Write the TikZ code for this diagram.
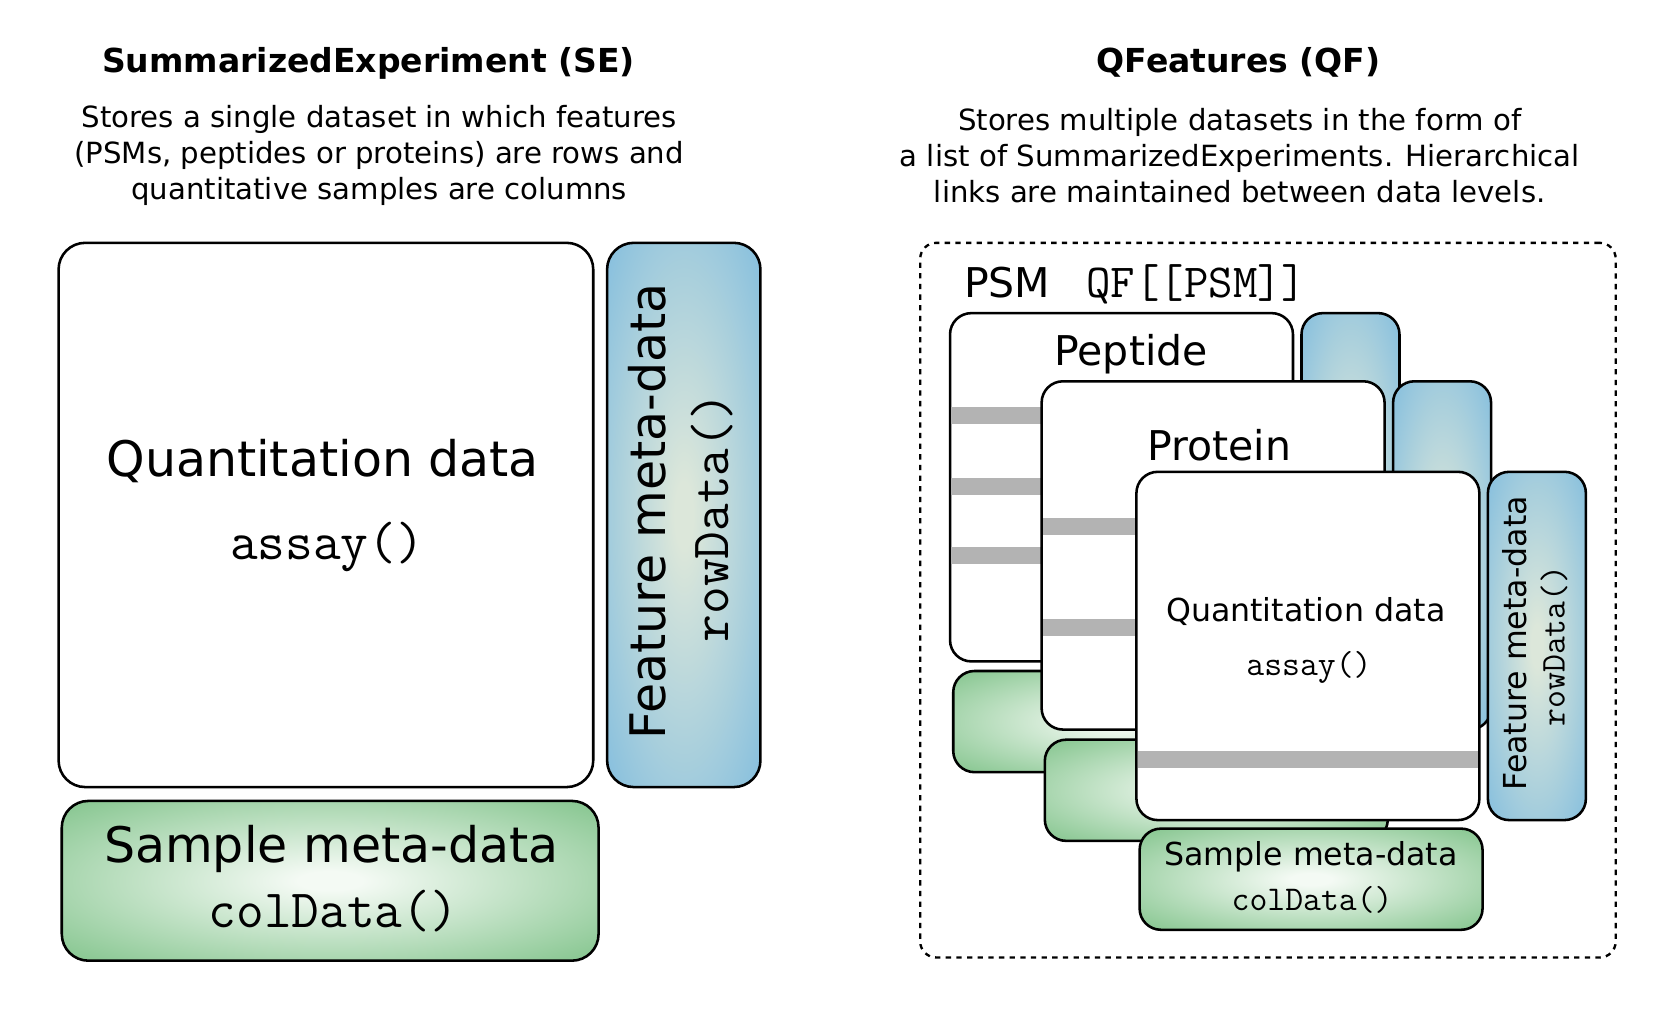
\documentclass[tikz,border=0pt]{standalone}
\usepackage{fontspec}
\setmainfont{DejaVu Sans}
\usepackage{tikz}
\definecolor{blueout}{RGB}{132,190,222}
\definecolor{bluein}{RGB}{220,231,218}
\definecolor{greenout}{RGB}{137,199,146}
\definecolor{greenin}{RGB}{244,250,244}
\definecolor{rowbar}{RGB}{179,179,179}
\pgfdeclareradialshading{blueglow}{\pgfpoint{0bp}{0bp}}{color(0bp)=(bluein); color(3bp)=(bluein); color(36bp)=(blueout); color(50bp)=(blueout)}
\pgfdeclareradialshading{greenglow}{\pgfpoint{0bp}{0bp}}{color(0bp)=(greenin); color(3bp)=(greenin); color(34bp)=(greenout); color(50bp)=(greenout)}
\newcommand{\sztitle}{\fontsize{31}{37}\selectfont\bfseries}
\newcommand{\szdesc}{\fontsize{27.4}{34}\selectfont}
\newcommand{\szbig}{\fontsize{46}{55}\selectfont}
\newcommand{\szbigtt}{\fontsize{50.5}{60}\selectfont\ttfamily}
\newcommand{\szmid}{\fontsize{38.5}{46}\selectfont}
\newcommand{\szqftt}{\fontsize{44.5}{52}\selectfont\ttfamily}
\newcommand{\szsmall}{\fontsize{29.7}{36}\selectfont}
\newcommand{\szsmalltt}{\fontsize{32.6}{39}\selectfont\ttfamily}
\tikzstyle{box} = [draw=black, line width=2.4pt, rounded corners=25pt, inner sep=0pt, outer sep=0pt]
\tikzstyle{quantbox} = [box, fill=white]
\tikzstyle{featbox} = [box, shade, shading=blueglow]
\tikzstyle{sampbox} = [box, shade, shading=greenglow]
\tikzstyle{assaybox} = [quantbox, rounded corners=20pt, minimum width=322pt, minimum height=327pt]
\tikzstyle{rowbox} = [featbox, rounded corners=20pt, minimum width=92pt, minimum height=327pt]
\tikzstyle{colbox} = [sampbox, rounded corners=20pt, minimum width=322pt, minimum height=95pt]
\tikzstyle{bar} = [fill=rowbar]
\tikzstyle{qfframe} = [draw=black, line width=2.2pt, dash pattern=on 5pt off 5pt, rounded corners=15pt, inner sep=0pt]
\tikzstyle{lbl} = [anchor=base, inner sep=0pt]

\begin{document}
\begin{tikzpicture}[x=1pt, y=-1pt]
  \useasboundingbox (0,0) rectangle (1568,955);
  % SummarizedExperiment
  \node[lbl, font=\sztitle] (setitle) at (346,68) {SummarizedExperiment (SE)};
  \node[font=\szdesc, align=center, inner sep=0pt] (sedesc) at (356,146) {Stores a single dataset in which features\\(PSMs, peptides or proteins) are rows and\\quantitative samples are columns};
  \node[quantbox, minimum width=502pt, minimum height=511pt] (quant) at (306,483.5) {};
  \node[featbox, minimum width=144pt, minimum height=511pt] (feat) at (642,483.5) {};
  \node[sampbox, minimum width=504pt, minimum height=150pt] (samp) at (310,827) {};
  \node[lbl, font=\szbig] (quanttxt) at (303,447) {Quantitation data};
  \node[lbl, font=\szbigtt] (assaytxt) at (307,525) {assay()};
  \node[lbl, rotate=90, font=\szbig] (feattxt) at (625,480) {Feature meta-data};
  \node[lbl, rotate=90, font=\szbigtt] (rowtxt) at (684,486) {rowData()};
  \node[lbl, font=\szbig] (samptxt) at (311,810) {Sample meta-data};
  \node[lbl, font=\szbigtt] (coltxt) at (313,871) {colData()};
  % QFeatures
  \node[lbl, font=\sztitle] (qftitle) at (1163,68) {QFeatures (QF)};
  \node[font=\szdesc, align=center, inner sep=0pt] (qfdesc) at (1164,146) {Stores multiple datasets in the form of\\a list of SummarizedExperiments. Hierarchical\\links are maintained between data levels.};
  \node[qfframe, minimum width=653pt, minimum height=671pt] (qf) at (1190.5,563.5) {};
  \node[anchor=base west, inner sep=0pt, font=\szmid] (psmtxt) at (905,279) {PSM};
  \node[anchor=base west, inner sep=0pt, font=\szqftt] (qftxt) at (1020,279) {QF[[PSM]]};
  % PSM level
  \node[rowbox] (psmrow) at (1268,457.5) {};
  \node[colbox] (psmcol) at (1056,677.5) {};
  \node[assaybox] (psm) at (1053,457.5) {};
  \fill[bar] (893.2,382) rectangle (1212.8,398);
  \fill[bar] (893.2,449) rectangle (1212.8,465);
  \fill[bar] (893.2,514) rectangle (1212.8,530);
  \node[lbl, font=\szmid] (peptxt) at (1062,343) {Peptide};
  % Peptide level
  \node[rowbox] (peprow) at (1354,521.5) {};
  \node[colbox] (pepcol) at (1142,742) {};
  \node[assaybox] (pep) at (1139,521.5) {};
  \fill[bar] (979.2,486) rectangle (1298.8,502);
  \fill[bar] (979.2,581) rectangle (1298.8,597);
  \node[lbl, font=\szmid] (prottxt) at (1145,432) {Protein};
  % Protein level
  \node[rowbox] (protrow) at (1443,606.5) {};
  \node[colbox] (protcol) at (1231,825.5) {};
  \node[assaybox] (prot) at (1228,606.5) {};
  \fill[bar] (1068.2,705) rectangle (1387.8,721);
  \node[lbl, font=\szsmall] (qsmall) at (1226,584) {Quantitation data};
  \node[lbl, font=\szsmalltt] (asmall) at (1229,634) {assay()};
  \node[lbl, rotate=90, font=\szsmall] (fsmall) at (1433,604) {Feature meta-data};
  \node[lbl, rotate=90, font=\szsmalltt] (rsmall) at (1469,606.5) {rowData()};
  \node[lbl, font=\szsmall] (ssmall) at (1231,813) {Sample meta-data};
  \node[lbl, font=\szsmalltt] (csmall) at (1232,855) {colData()};
\end{tikzpicture}
\end{document}
